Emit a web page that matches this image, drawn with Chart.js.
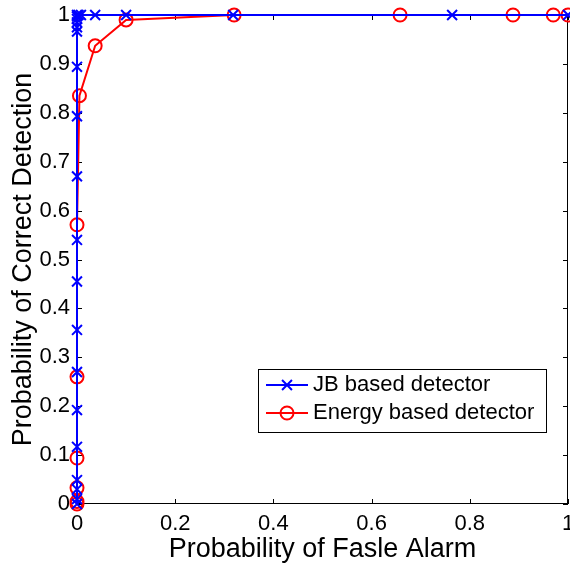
<!DOCTYPE html>
<html>
<head>
<meta charset="utf-8">
<script src="https://cdn.jsdelivr.net/npm/chart.js@4/dist/chart.umd.min.js"></script>
<style>
  body { margin: 0; background: #fff; }
  #wrap { width: 570px; height: 567px; }
</style>
</head>
<body>
<div id="wrap"><canvas id="roc" width="570" height="567"></canvas></div>
<script>
// ROC data
const jbFalseAlarm = [0, 0, 0, 0, 0, 0, 0, 0, 0, 0, 0, 0, 0, 0, 0, 0, 0, 0, 0, 0.003, 0.008, 0.037, 0.1, 0.318, 0.764, 1];
const jbDetection  = [0, 0.01, 0.03, 0.049, 0.117, 0.192, 0.27, 0.356, 0.455, 0.54, 0.67, 0.793, 0.894, 0.966, 0.975, 0.985, 0.992, 0.997, 1, 1, 1, 1, 1, 1, 1, 1];

const energyFalseAlarm = [0, 0, 0, 0, 0, 0, 0.005, 0.037, 0.1, 0.32, 0.658, 0.888, 0.97, 1];
const energyDetection  = [0, 0.005, 0.033, 0.094, 0.26, 0.571, 0.835, 0.937, 0.99, 1, 1, 1, 1, 1];

const xTickValues = [0, 0.2, 0.4, 0.6, 0.8, 1];
const yTickValues = [0, 0.1, 0.2, 0.3, 0.4, 0.5, 0.6, 0.7, 0.8, 0.9, 1];

const seriesLabels = ['JB based detector', 'Energy based detector'];
const xTitle = 'Probability of Fasle Alarm';
const yTitle = 'Probability of Correct Detection';

const FONT = 'Helvetica, Arial, "Liberation Sans", sans-serif';

function toPoints(xs, ys) {
    return xs.map((x, i) => ({ x: x, y: ys[i] }));
}

// matlab style box with inward ticks, drawn under the lines
const boxPlugin = {
    id: 'box',
    beforeDatasetsDraw(chart) {
        const { ctx, chartArea: a, scales: { x, y } } = chart;
        ctx.save();
        ctx.strokeStyle = '#000';
        ctx.lineWidth = 1;
        ctx.strokeRect(a.left + 0.5, a.top + 0.5, a.right - a.left - 1, a.bottom - a.top - 1);
        ctx.beginPath();
        xTickValues.forEach(v => {
            const px = Math.round(x.getPixelForValue(v)) + 0.5;
            ctx.moveTo(px, a.bottom); ctx.lineTo(px, a.bottom - 5);
            ctx.moveTo(px, a.top); ctx.lineTo(px, a.top + 5);
        });
        yTickValues.forEach(v => {
            const py = Math.round(y.getPixelForValue(v)) + 0.5;
            ctx.moveTo(a.left, py); ctx.lineTo(a.left + 5, py);
            ctx.moveTo(a.right, py); ctx.lineTo(a.right - 5, py);
        });
        ctx.stroke();
        ctx.restore();
    },
    afterDraw(chart) {
        // legend box inside the axes
        const { ctx } = chart;
        const bx = 258, by = 369, bw = 288, bh = 63;
        ctx.save();
        ctx.fillStyle = '#fff';
        ctx.fillRect(bx, by, bw, bh);
        ctx.strokeStyle = '#000';
        ctx.lineWidth = 1;
        ctx.strokeRect(bx + 0.5, by + 0.5, bw, bh);
        chart.data.datasets.forEach((ds, i) => {
            const cy = by + 16 + i * 28;
            ctx.strokeStyle = ds.borderColor;
            ctx.fillStyle = 'rgba(0,0,0,0)';
            ctx.lineWidth = 2;
            ctx.beginPath();
            ctx.moveTo(266, cy); ctx.lineTo(308, cy);
            ctx.stroke();
            Chart.helpers.drawPoint(ctx, {
                pointStyle: ds.pointStyle,
                radius: ds.pointRadius,
                borderWidth: ds.pointBorderWidth,
                rotation: 0
            }, 287, cy);
            ctx.fillStyle = '#000';
            ctx.font = '22px ' + FONT;
            ctx.textBaseline = 'middle';
            ctx.textAlign = 'left';
            ctx.fillText(ds.label, 313, cy);
        });
        ctx.restore();
    }
};

new Chart(document.getElementById('roc'), {
    type: 'line',
    data: {
        datasets: [{
            label: seriesLabels[0],
            data: toPoints(jbFalseAlarm, jbDetection),
            borderColor: '#0000ff',
            backgroundColor: 'rgba(0,0,0,0)',
            borderWidth: 2,
            pointStyle: 'crossRot',
            pointRadius: 7,
            pointBorderWidth: 2,
            pointBorderColor: '#0000ff',
            pointBackgroundColor: 'rgba(0,0,0,0)',
            tension: 0,
            clip: false
        }, {
            label: seriesLabels[1],
            data: toPoints(energyFalseAlarm, energyDetection),
            borderColor: '#ff0000',
            backgroundColor: 'rgba(0,0,0,0)',
            borderWidth: 2,
            pointStyle: 'circle',
            pointRadius: 6.5,
            pointBorderWidth: 2,
            pointBorderColor: '#ff0000',
            pointBackgroundColor: 'rgba(0,0,0,0)',
            tension: 0,
            clip: false
        }]
    },
    options: {
        responsive: false,
        animation: false,
        layout: {
            autoPadding: false,
            padding: { left: 0, top: 15, right: 2, bottom: 0 }
        },
        plugins: {
            legend: { display: false },
            tooltip: { enabled: false }
        },
        scales: {
            x: {
                type: 'linear',
                min: 0,
                max: 1,
                grid: { display: false, drawTicks: false },
                border: { display: false },
                afterBuildTicks: s => { s.ticks = xTickValues.map(v => ({ value: v })); },
                afterFit: s => { s.height = 63; s.paddingLeft = 0; s.paddingRight = 0; },
                ticks: {
                    color: '#000',
                    padding: 7,
                    maxRotation: 0,
                    callback: v => String(v),
                    font: { family: FONT, size: 22 }
                },
                title: {
                    display: true,
                    text: xTitle,
                    color: '#000',
                    padding: { top: 0, bottom: 1 },
                    font: { family: FONT, size: 27 }
                }
            },
            y: {
                type: 'linear',
                min: 0,
                max: 1,
                grid: { display: false, drawTicks: false },
                border: { display: false },
                afterBuildTicks: s => { s.ticks = yTickValues.map(v => ({ value: v })); },
                afterFit: s => { s.width = 77; s.paddingTop = 0; s.paddingBottom = 0; },
                ticks: {
                    color: '#000',
                    padding: 7,
                    callback: v => String(v),
                    font: { family: FONT, size: 22 }
                },
                title: {
                    display: true,
                    text: yTitle,
                    color: '#000',
                    padding: { top: 7, bottom: 0 },
                    font: { family: FONT, size: 27 }
                }
            }
        }
    },
    plugins: [boxPlugin]
});
</script>
</body>
</html>
